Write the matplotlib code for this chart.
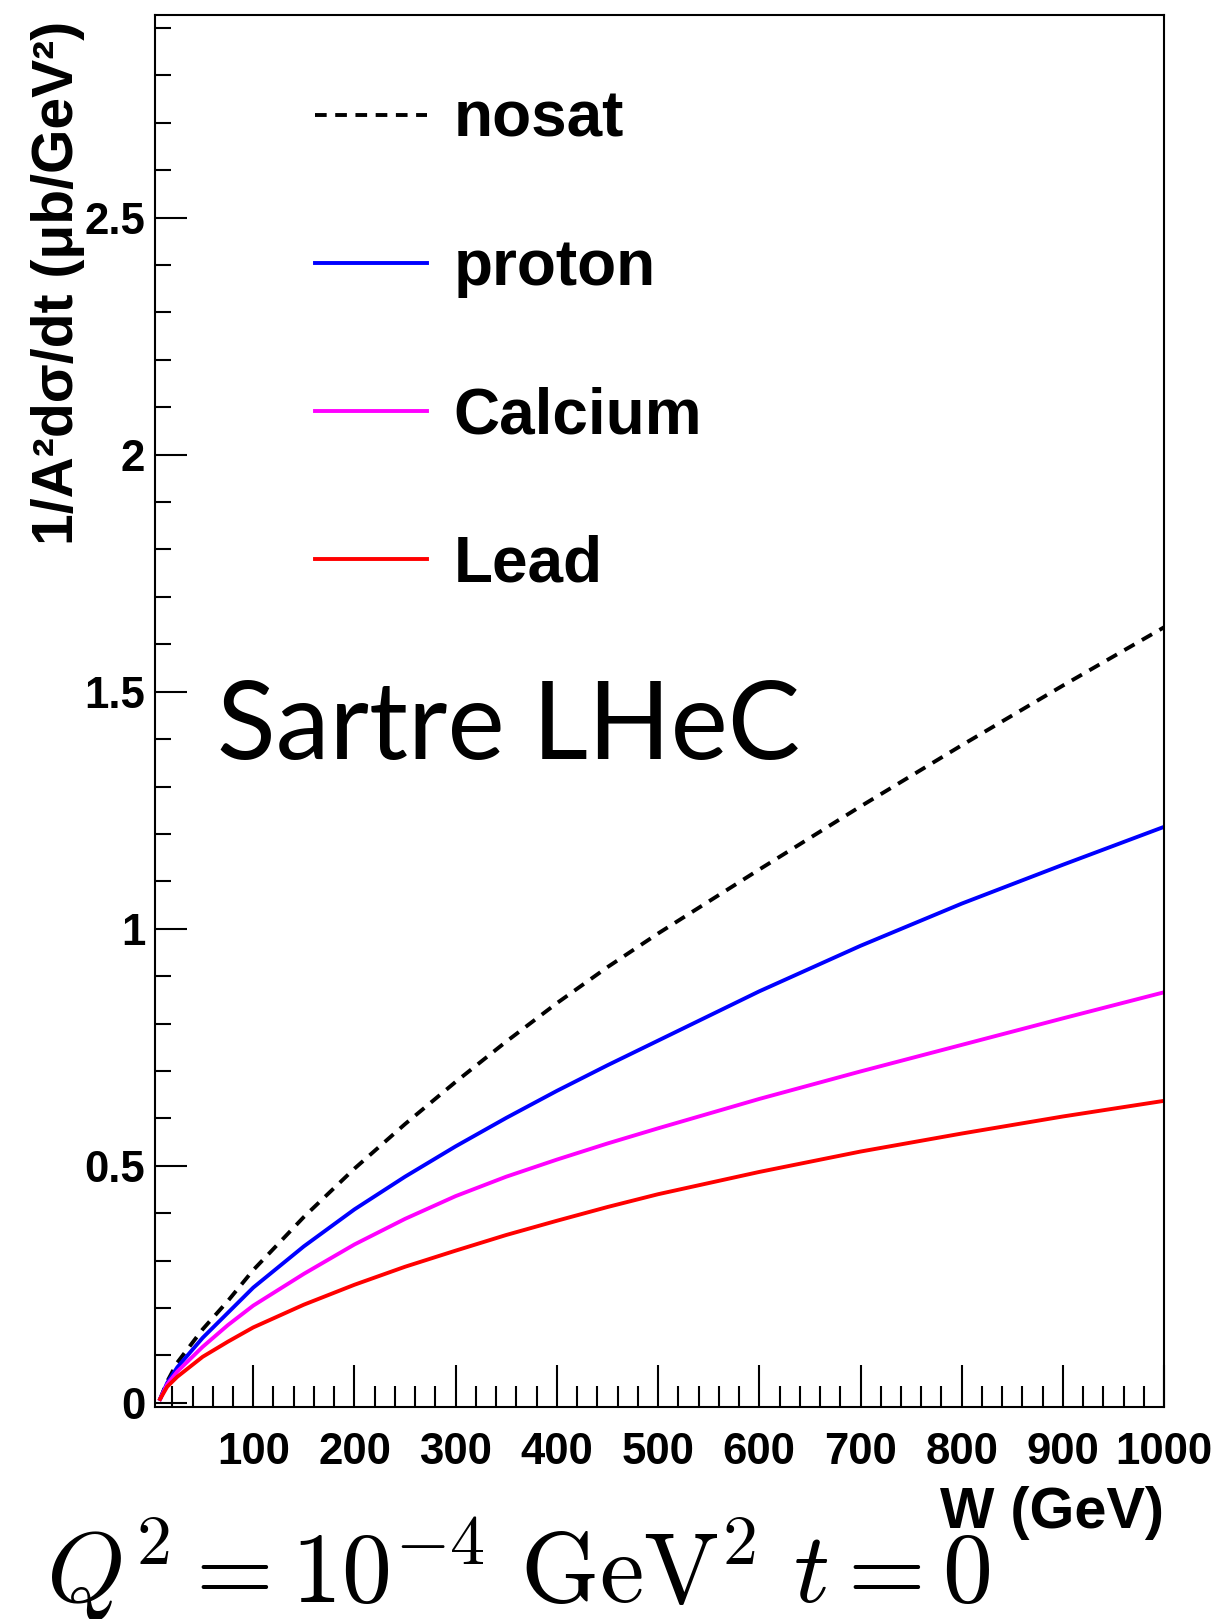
import numpy as np
import matplotlib.pyplot as plt
from matplotlib.ticker import MultipleLocator

# values
W = [8, 15, 25, 50, 75, 100, 150, 200, 250, 300, 350, 400, 450, 500, 600, 700, 800, 900, 1000]
nosat = [0.008, 0.045, 0.085, 0.155, 0.215, 0.280, 0.392, 0.494, 0.588, 0.677, 0.762, 0.843, 0.919,
         0.990, 1.125, 1.258, 1.387, 1.513, 1.636]
proton = [0.008, 0.042, 0.075, 0.137, 0.190, 0.243, 0.330, 0.408, 0.477, 0.541, 0.601, 0.658, 0.712,
          0.764, 0.868, 0.964, 1.053, 1.135, 1.215]
calcium = [0.008, 0.039, 0.066, 0.118, 0.164, 0.205, 0.272, 0.334, 0.388, 0.436, 0.477, 0.513, 0.547,
           0.579, 0.641, 0.699, 0.755, 0.811, 0.866]
lead = [0.008, 0.034, 0.055, 0.097, 0.129, 0.159, 0.207, 0.249, 0.287, 0.321, 0.354, 0.384, 0.413,
        0.440, 0.487, 0.530, 0.568, 0.604, 0.637]

xticks = [100, 200, 300, 400, 500, 600, 700, 800, 900, 1000]
yticks = [0, 0.5, 1, 1.5, 2, 2.5]
ytick_labels = ['0', '0.5', '1', '1.5', '2', '2.5']

bold = {'family': 'Liberation Sans', 'weight': 'bold'}

fig = plt.figure(figsize=(12.19, 16.19), dpi=100)
ax = fig.add_axes([0.1272, 0.1309, 0.9550 - 0.1272, 0.9909 - 0.1309])

ax.plot(W, nosat, color='black', lw=2.8, ls=(0, (3, 2.2)), label='nosat')
ax.plot(W, proton, color='blue', lw=2.8, label='proton')
ax.plot(W, calcium, color='magenta', lw=2.8, label='Calcium')
ax.plot(W, lead, color='red', lw=2.8, label='Lead')

ax.set_xlim(3, 1000)
ax.set_ylim(-0.009, 2.928)

for s in ax.spines.values():
    s.set_linewidth(1.5)

ax.set_xticks(xticks)
ax.set_xticklabels([str(v) for v in xticks], fontdict=bold, fontsize=31.5)
ax.xaxis.set_minor_locator(MultipleLocator(20))
ax.set_yticks(yticks)
ax.set_yticklabels(ytick_labels, fontdict=bold, fontsize=31.5)
ax.yaxis.set_minor_locator(MultipleLocator(0.1))

ax.tick_params(axis='x', which='major', direction='in', length=30, width=1.5, pad=18)
ax.tick_params(axis='x', which='minor', direction='in', length=15, width=1.5)
ax.tick_params(axis='y', which='major', direction='in', length=23, width=1.5, pad=7)
ax.tick_params(axis='y', which='minor', direction='in', length=11.5, width=1.5)

ax.set_xlabel('W (GeV)', fontdict=bold, fontsize=41.5, loc='right')
ax.xaxis.set_label_coords(1.0, -0.057)
ax.xaxis.label.set_va('top')
ax.set_ylabel('1/A²dσ/dt (μb/GeV²)', fontdict=bold, fontsize=41, loc='top')
ax.yaxis.set_label_coords(-0.069, 0.996)

leg = ax.legend(loc='upper left', bbox_to_anchor=(0.1586, 0.946), frameon=False,
                prop={'family': 'Liberation Sans', 'weight': 'bold', 'size': 46},
                handlelength=1.75, handletextpad=0.42, labelspacing=1.38, borderpad=0,
                borderaxespad=0)

ax.text(0.0614, 0.4657, 'Sartre LHeC', transform=ax.transAxes, family='Lato',
        fontsize=78, va='baseline', ha='left')

fig.text(0.0377, 0.0099, r'$Q^2 = 10^{-4}\ \mathrm{GeV}^2\ t = 0$', fontsize=72,
         math_fontfamily='cm', va='baseline', ha='left')

fig.savefig('out.png', dpi=100)
